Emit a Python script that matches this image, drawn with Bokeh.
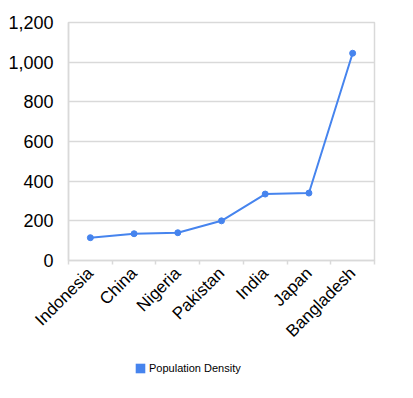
import numpy as np
from bokeh.plotting import figure
from bokeh.layouts import column
from bokeh.models import (FixedTicker, NumeralTickFormatter, Range1d, Legend, LegendItem,
                          ColumnDataSource, Quad, GlyphRenderer)
from bokeh.embed import file_html
from bokeh.resources import INLINE

countries = ["Indonesia", "China", "Nigeria", "Pakistan", "India", "Japan", "Bangladesh"]
density = [115, 135, 140, 200, 335, 340, 1045]
y_ticks = [0, 200, 400, 600, 800, 1000, 1200]
series_name = "Population Density"

BLUE = "#4684ee"
GRID = "#d9d9d9"
FONT = "Liberation Sans"

n = len(countries)
xs = np.arange(n) + 0.5

p = figure(width=405, height=350, output_backend="svg", toolbar_location=None,
           x_range=Range1d(0, n), y_range=Range1d(y_ticks[0], y_ticks[-1]),
           min_border_left=68, min_border_right=31, min_border_top=22, min_border_bottom=88)

src = ColumnDataSource(dict(x=xs, y=density))
p.line("x", "y", source=src, line_color=BLUE, line_width=2)
p.scatter("x", "y", source=src, size=6, fill_color=BLUE, line_color=BLUE)

# x axis
p.xaxis.ticker = FixedTicker(ticks=list(xs), minor_ticks=list(range(n + 1)))
p.xaxis.major_label_overrides = {float(x): c for x, c in zip(xs, countries)}
p.xaxis.major_label_orientation = np.pi / 4
p.xaxis.major_label_text_font = FONT
p.xaxis.major_label_text_font_size = "17px"
p.xaxis.major_label_text_color = "black"
p.xaxis.major_tick_line_color = None
p.xaxis.minor_tick_line_color = GRID
p.xaxis.minor_tick_line_width = 1.5
p.xaxis.minor_tick_out = 4
p.xaxis.minor_tick_in = 0
p.xaxis.axis_line_color = GRID
p.xaxis.axis_line_width = 1.5
p.xaxis.major_label_standoff = 4

# y axis
p.yaxis.ticker = FixedTicker(ticks=y_ticks)
p.yaxis.formatter = NumeralTickFormatter(format="0,0")
p.yaxis.major_label_text_font = FONT
p.yaxis.major_label_text_font_size = "18px"
p.yaxis.major_label_text_color = "black"
p.yaxis.major_tick_line_color = None
p.yaxis.minor_tick_line_color = None
p.yaxis.axis_line_color = GRID
p.yaxis.axis_line_width = 1.5
p.yaxis.major_label_standoff = 9

p.xgrid.grid_line_color = None
p.ygrid.grid_line_color = GRID
p.ygrid.grid_line_width = 1.5
p.outline_line_color = GRID
p.outline_line_width = 1.5

# legend strip (zero-area proxy glyph, used only for the legend key)
lf = figure(width=405, height=40, output_backend="svg", toolbar_location=None,
            x_range=Range1d(0, 1), y_range=Range1d(0, 1),
            x_axis_type=None, y_axis_type=None, min_border=0)
lf.outline_line_color = None
proxy = GlyphRenderer(data_source=src,
                      glyph=Quad(left="x", right="x", bottom="y", top="y",
                                 fill_color=BLUE, line_color=None))
lf.renderers.append(proxy)
legend = Legend(items=[LegendItem(label=series_name, renderers=[proxy])],
                location=(66, 16), orientation="horizontal",
                glyph_width=12, glyph_height=12, label_standoff=3,
                label_text_font=FONT, label_text_font_size="11px", label_text_color="black",
                padding=0, margin=0, border_line_color=None, background_fill_alpha=0)
lf.add_layout(legend, "center")

layout = column(p, lf, spacing=0)
open("out.html", "w").write(file_html(layout, INLINE))
